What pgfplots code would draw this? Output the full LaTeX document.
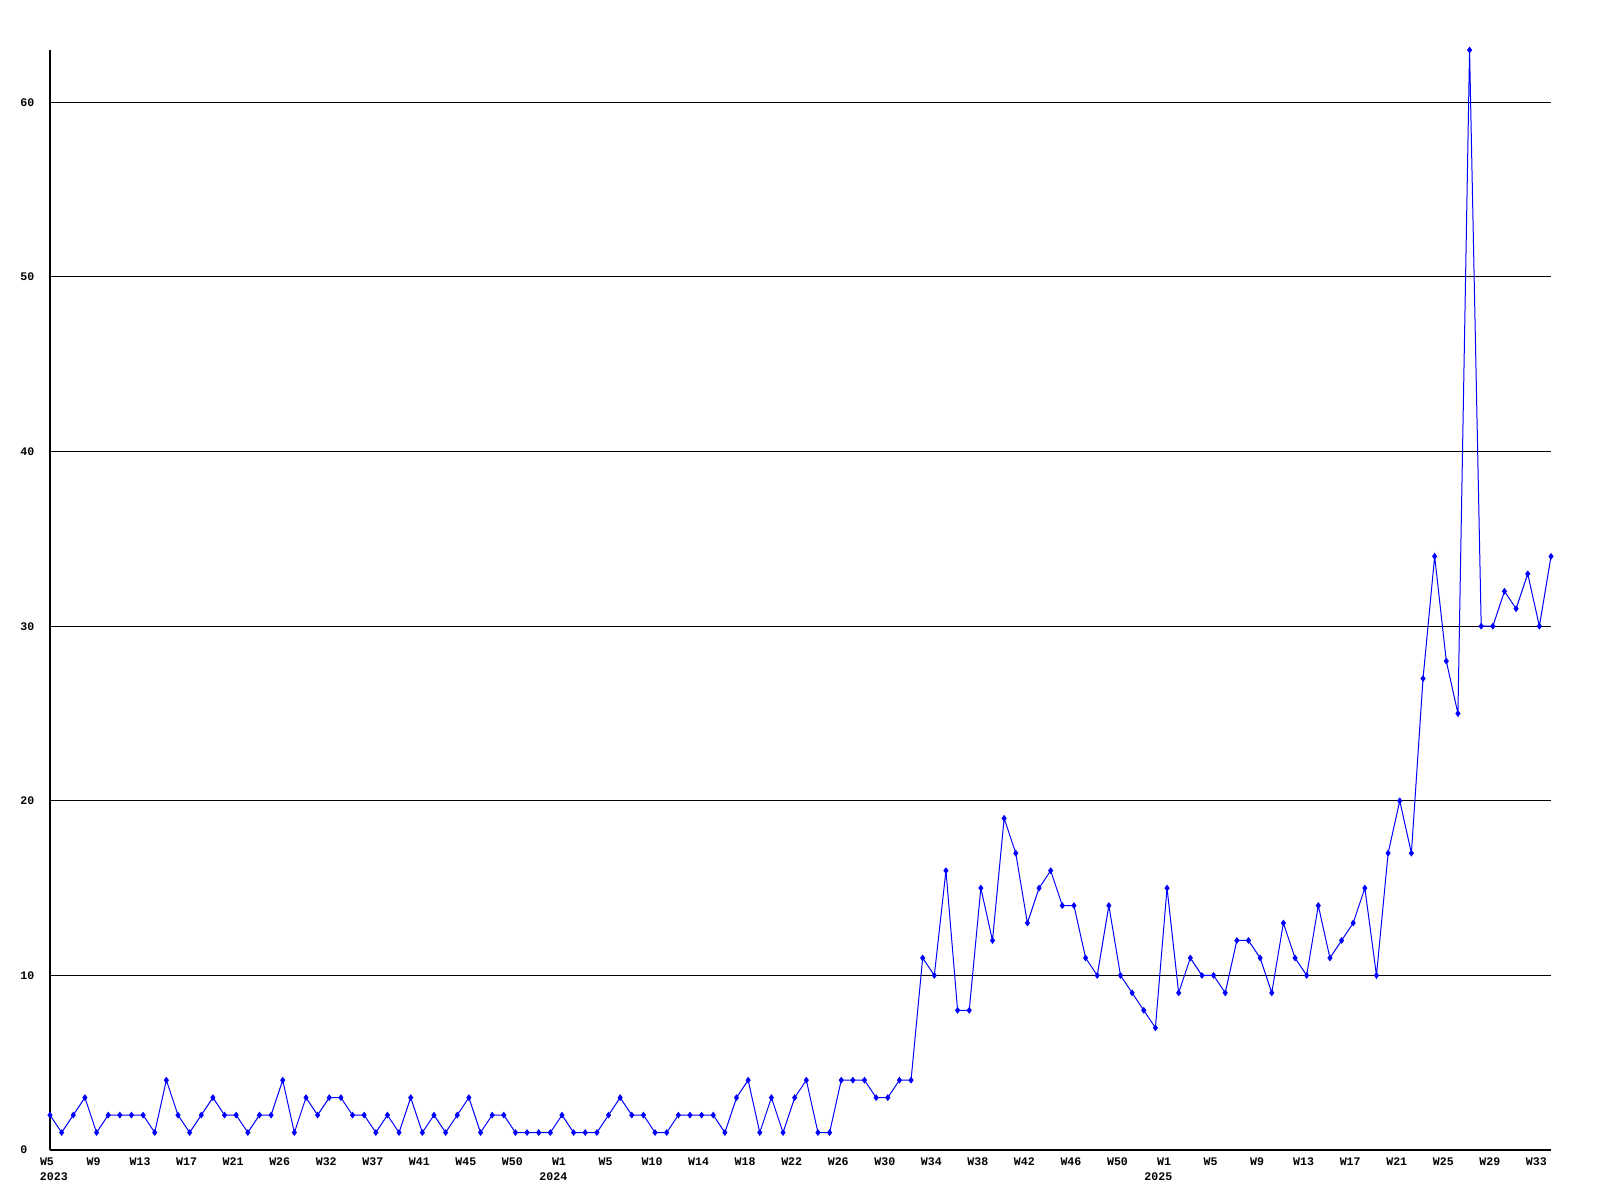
\documentclass[border=0pt]{standalone}
\usepackage{pgfplots}
\pgfplotsset{compat=1.18}
\usepackage{fontspec}
\setmainfont{Liberation Mono}
\pgfplotstableread{
i v
0 2
1 1
2 2
3 3
4 1
5 2
6 2
7 2
8 2
9 1
10 4
11 2
12 1
13 2
14 3
15 2
16 2
17 1
18 2
19 2
20 4
21 1
22 3
23 2
24 3
25 3
26 2
27 2
28 1
29 2
30 1
31 3
32 1
33 2
34 1
35 2
36 3
37 1
38 2
39 2
40 1
41 1
42 1
43 1
44 2
45 1
46 1
47 1
48 2
49 3
50 2
51 2
52 1
53 1
54 2
55 2
56 2
57 2
58 1
59 3
60 4
61 1
62 3
63 1
64 3
65 4
66 1
67 1
68 4
69 4
70 4
71 3
72 3
73 4
74 4
75 11
76 10
77 16
78 8
79 8
80 15
81 12
82 19
83 17
84 13
85 15
86 16
87 14
88 14
89 11
90 10
91 14
92 10
93 9
94 8
95 7
96 15
97 9
98 11
99 10
100 10
101 9
102 12
103 12
104 11
105 9
106 13
107 11
108 10
109 14
110 11
111 12
112 13
113 15
114 10
115 17
116 20
117 17
118 27
119 34
120 28
121 25
122 63
123 30
124 30
125 32
126 31
127 33
128 30
129 34
}\datatable
\begin{document}
\begin{tikzpicture}
\useasboundingbox (0,0) rectangle (800pt,600pt);
\begin{axis}[
  at={(25pt,25pt)}, anchor=south west,
  scale only axis, width=750.5pt, height=550pt,
  xmin=0, xmax=129, ymin=0, ymax=63,
  axis lines=left, axis line style={-, black, line width=0.6pt},
  clip=false,
  ytick={0,10,20,30,40,50,60},
  ymajorgrids, grid style={black, line width=0.5pt},
  xtick={0,4,...,128},
  xticklabels={W5,W9,W13,W17,W21,W26,W32,W37,W41,W45,W50,W1,W5,W10,W14,W18,W22,W26,W30,W34,W38,W42,W46,W50,W1,W5,W9,W13,W17,W21,W25,W29,W33},
  major tick length=0pt,
  /pgf/number format/assume math mode=true,
  tick label style={font=\fontsize{5.8}{7}\selectfont\bfseries},
  yticklabel style={anchor=west, inner sep=0pt, xshift=-15pt},
  xticklabel style={anchor=north, inner sep=0pt, yshift=-3.5pt, xshift=-1.5pt},
]
\addplot[color={rgb,255:red,0;green,0;blue,255}, line width=0.5pt, mark=diamond*, mark size=1.3pt, mark options={solid}] table[x=i,y=v] {\datatable};
\node[anchor=north, inner sep=0pt, font=\fontsize{5.8}{7}\selectfont\bfseries] at (axis cs:0.5,0) [yshift=-11pt, xshift=-1pt] {2023};
\node[anchor=north, inner sep=0pt, font=\fontsize{5.8}{7}\selectfont\bfseries] at (axis cs:43.6,0) [yshift=-11pt, xshift=-2pt] {2024};
\node[anchor=north, inner sep=0pt, font=\fontsize{5.8}{7}\selectfont\bfseries] at (axis cs:95.6,0) [yshift=-11pt, xshift=-2pt] {2025};
\end{axis}
\end{tikzpicture}
\end{document}
